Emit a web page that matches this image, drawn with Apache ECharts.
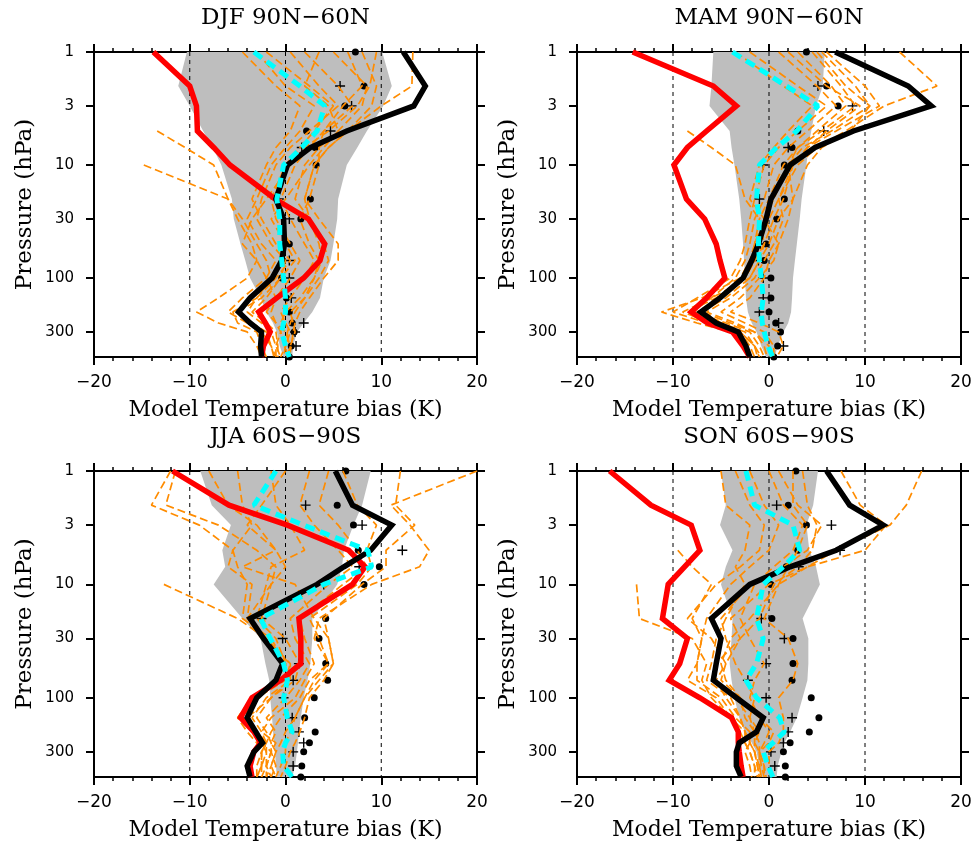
<!DOCTYPE html>
<html>
<head>
<meta charset="utf-8">
<script src="https://cdn.jsdelivr.net/npm/echarts@6/dist/echarts.min.js"></script>
<style>
html,body{margin:0;padding:0;background:#fff;}
#chart{width:973px;height:844px;}
</style>
</head>
<body>
<div id="chart"></div>
<script>
// Pressure levels (hPa), top to bottom
const levels = [1, 2, 3, 5, 7, 10, 20, 30, 50, 70, 100, 150, 200, 250, 300, 400, 500];
const pressureTicks = [1, 3, 10, 30, 100, 300];
const biasMin = -20, biasMax = 20, biasStep = 10;
const refLines = [-10, 0, 10];
const panelTitles = ['DJF 90N\u221260N', 'MAM 90N\u221260N', 'JJA 60S\u221290S', 'SON 60S\u221290S'];

// ---------- DJF 90N-60N ----------
const djfSpreadLo = [-10.3, -11.2, -10.0, -8.6, -7.6, -6.7, -5.6, -5.4, -4.7, -4.2, -3.7, -2.6, -2.0, -1.3, -0.9, -0.6, -0.2];
const djfSpreadHi = [10.1, 11.1, 10.2, 8.5, 7.5, 6.4, 5.5, 5.4, 5.0, 4.7, 4.0, 3.6, 2.8, 1.9, 1.2, 0.8, 0.7];
const djfModels = [
  [13.3, 13.2, 10.0, 6.5, 4.5, 3.0, 2.0, 2.5, 3.5, 3.8, 3.0, 2.0, 1.0, 0.5, 0.2, 0.0, -0.5],
  [null, null, null, -13.4, -10.5, -7.5, -6.0, -5.0, -3.5, -3.0, -4.0, -7.0, -9.3, -7.0, -4.0, -3.0, -2.5],
  [null, null, null, null, null, -14.8, -6.0, -4.5, -3.0, -2.0, -1.5, -3.0, -5.5, -5.0, -3.0, -2.5, -2.0],
  [-4.5, -1.0, 1.5, 0.5, -1.0, -2.0, -3.5, -2.5, -1.0, 0.5, -1.0, -3.0, -4.0, -2.5, -1.5, -1.0, -0.5],
  [-2.0, 2.5, 5.0, 3.0, 1.5, 0.0, -1.5, -1.0, 0.5, 1.5, 0.5, -1.0, -2.0, -1.0, 0.0, 0.5, 0.3],
  [2.0, 5.5, 7.0, 4.0, 2.5, 1.0, -0.5, 0.5, 2.0, 3.0, 2.0, 0.5, -0.5, 0.0, 0.5, 0.0, -0.2],
  [5.0, 8.5, 8.0, 5.5, 3.5, 2.0, 1.0, 2.5, 4.0, 4.5, 3.5, 2.0, 0.5, 0.8, 1.0, 0.5, 0.2],
  [8.0, 9.5, 9.0, 6.5, 4.5, 3.0, 2.0, 3.5, 5.5, 5.5, 4.0, 2.5, 1.5, 1.0, 0.8, 0.6, 0.4],
  [-3.0, 0.0, 3.0, 1.5, 0.0, -1.5, -3.0, -4.0, -2.5, -1.0, -2.0, -4.5, -6.0, -4.0, -2.5, -1.5, -1.0],
  [0.5, 3.5, 5.5, 2.5, 0.5, -1.0, -2.5, -3.0, -1.5, 0.0, -0.5, -2.0, -3.5, -2.0, -1.0, -0.8, -0.8],
  [6.5, 8.0, 6.0, 4.0, 3.5, 3.5, 2.5, 1.5, 2.5, 3.5, 3.0, 1.5, 0.0, -0.5, -0.5, -1.0, -1.0],
  [3.5, 2.0, 4.5, 5.5, 4.0, 2.5, 0.0, -1.5, 0.0, 1.0, -0.5, -2.5, -5.0, -3.5, -2.0, -1.5, -1.2],
  [9.5, 8.8, 7.5, 4.5, 2.0, 0.5, -2.0, -3.5, -4.5, -3.0, -2.0, -1.0, -1.5, -1.0, -0.5, 0.0, 0.2]
];
const djfRed = [-13.8, -10.0, -9.3, -9.2, -7.5, -5.8, -1.1, 2.4, 4.1, 3.6, 1.9, -0.9, -2.8, -2.1, -1.6, -2.3, -2.5];
const djfBlack = [12.3, 14.6, 13.4, 6.4, 2.6, 0.2, -1.0, -0.2, -0.1, -0.4, -1.4, -3.7, -4.9, -3.7, -2.5, -2.6, -2.5];
const djfMean = [-3.3, 1.5, 4.1, 3.3, 1.7, -0.2, -0.9, -0.6, -0.6, -0.4, -0.2, 0.0, 0.0, -0.2, -0.4, 0.0, 0.4];
const djfDots = [7.3, 8.2, 6.2, 2.2, 3.1, 3.2, 2.6, 1.6, 0.4, -0.3, -0.4, 0.1, 0.4, 0.7, 0.9, 0.6, 0.4];
const djfPlus = [null, 5.7, 6.9, 4.7, 1.7, null, -0.7, 0.4, null, 0.4, 0.4, 0.6, null, 1.9, 1.0, 1.1, null];

// ---------- MAM 90N-60N ----------
const mamSpreadLo = [-5.8, -6.0, -6.2, -4.1, -3.9, -3.6, -3.1, -2.9, -2.7, -2.6, -2.5, -2.4, -2.2, -1.8, -1.3, -0.8, -0.3];
const mamSpreadHi = [5.8, 5.6, 4.9, 4.4, 4.1, 3.9, 3.4, 3.2, 2.9, 2.7, 2.5, 2.4, 2.3, 2.0, 1.5, 0.9, 0.6];
const mamModels = [
  [13.6, 17.5, 12.0, 8.0, 5.0, 3.0, 1.0, 0.0, -1.0, -1.5, -2.5, -5.0, -7.0, -5.0, -3.0, -2.0, -1.5],
  [6.0, 10.0, 11.5, 7.0, 4.0, 2.5, 1.5, 0.5, -0.5, -1.0, -2.0, -6.0, -9.0, -6.0, -3.5, -2.5, -2.0],
  [5.0, 8.0, 10.5, 6.5, 3.5, 2.0, 0.5, -0.5, -1.5, -2.0, -3.0, -7.0, -11.2, -7.5, -4.0, -2.5, -1.8],
  [3.0, 6.5, 8.0, 5.0, 3.0, 1.5, 0.0, -1.0, -1.5, -1.5, -2.5, -5.5, -8.5, -5.5, -3.0, -1.5, -1.0],
  [1.0, 5.0, 7.0, 4.0, 2.0, 0.5, -0.5, -1.5, -2.0, -2.5, -3.5, -6.0, -8.0, -4.5, -2.0, -1.0, -0.5],
  [-2.0, 3.0, 6.0, 3.0, 1.0, -0.5, -1.5, -2.0, -2.5, -3.0, -4.0, -7.5, -10.0, -6.5, -3.0, -1.5, -0.8],
  [-3.5, 1.5, 4.5, 2.0, 0.5, -1.0, -2.0, -0.5, 1.0, 0.5, -1.0, -3.0, -5.0, -2.5, -0.5, 0.5, 0.5],
  [4.5, 7.5, 9.0, 5.5, 3.0, 2.0, 2.5, 2.0, 1.0, 0.0, -0.5, -2.0, -4.0, -1.0, 1.0, 1.5, 0.8],
  [null, null, null, -8.5, -6.0, -3.5, -2.5, -1.0, -0.5, -1.5, -2.5, -5.0, -7.5, -5.0, -2.5, -1.5, -1.2],
  [2.0, 6.0, 9.5, 6.0, 4.0, 2.5, 1.0, 1.5, 0.5, -0.5, -1.5, -4.0, -6.5, -3.5, -1.5, -0.5, -0.2],
  [5.5, 9.0, 10.5, 8.5, 5.5, 4.0, 2.5, 1.0, 0.0, -1.0, -2.0, -4.5, -7.0, -4.0, -1.5, 0.0, 0.2]
];
const mamRed = [-14.2, -5.8, -3.4, -6.5, -8.5, -9.9, -8.6, -6.7, -5.5, -5.1, -4.6, -6.5, -8.1, -6.4, -3.8, -2.7, -2.0];
const mamBlack = [6.9, 14.5, 16.9, 8.8, 4.8, 2.2, 0.2, -0.3, -1.1, -1.8, -2.7, -5.1, -7.1, -5.5, -3.2, -2.4, -2.0];
const mamMean = [-3.8, 1.8, 5.1, 2.9, 0.8, -1.0, -1.3, -1.0, -1.1, -1.0, -0.8, -0.6, -0.8, -0.7, -0.5, -0.1, 0.4];
const mamDots = [3.9, 6.0, 7.2, 3.0, 2.4, 1.6, 1.6, 0.8, -0.3, -0.5, 0.2, 0.2, 0.0, 0.7, 1.2, 0.9, 0.5];
const mamPlus = [null, 5.1, 8.7, 5.7, 2.0, -0.6, -1.0, null, -0.9, -1.1, -0.6, -0.6, -1.0, 1.0, null, 1.5, null];

// ---------- JJA 60S-90S ----------
const jjaSpreadLo = [-8.9, -7.7, -5.7, -6.6, -6.3, -7.5, -4.5, -2.6, -2.1, -1.7, -1.6, -1.4, -1.3, -1.2, -1.1, -1.0, -0.9];
const jjaSpreadHi = [8.9, 8.0, 7.1, 6.1, 5.9, 5.4, 2.8, 2.8, 2.6, 2.3, 1.9, 1.6, 1.4, 1.3, 1.2, 1.0, 0.7];
const jjaModels = [
  [20.0, 11.0, 13.0, 15.0, 14.0, 9.0, 3.5, 3.0, 4.5, 2.5, 1.5, -0.5, -1.5, -2.0, -2.5, -2.5, -3.0],
  [12.0, 11.5, 13.5, 10.5, 10.5, 8.0, 4.0, 4.5, 5.0, 3.5, 2.0, 1.0, 0.0, -0.5, -1.0, -1.5, -2.0],
  [-12.0, -14.0, -9.0, -5.5, -5.0, -4.0, -4.5, -1.5, 0.0, -1.0, -3.5, -5.0, -4.0, -3.0, -2.5, -2.5, -2.5],
  [-11.5, -12.5, -7.0, -3.0, -1.0, -1.5, -4.0, -2.5, 0.5, 0.0, -3.0, -4.5, -3.5, -2.5, -2.0, -2.5, -3.0],
  [null, null, null, null, null, -12.7, -5.0, -2.0, 0.0, -1.0, -3.5, -5.0, -3.0, -2.0, -2.5, -3.0, -3.0],
  [-5.0, -4.5, -3.5, -5.5, -6.0, -3.5, -4.0, -2.0, 0.5, 0.5, -2.0, -3.5, -2.5, -2.0, -2.0, -2.0, -2.5],
  [-1.5, -1.0, 0.5, 2.0, -1.5, -2.0, -3.0, -1.0, 0.0, 0.5, -1.5, -3.0, -2.0, -1.5, -1.5, -1.0, -1.5],
  [2.5, 1.5, 3.0, 5.5, 7.0, 4.5, 0.5, 1.0, 2.5, 1.5, 0.0, -2.0, -1.0, -1.5, -1.0, -1.5, -1.0],
  [4.5, 3.5, 5.5, 7.5, 8.5, 6.0, 1.5, 2.0, 3.0, 2.0, 1.0, -1.5, -2.5, -1.0, -1.5, -2.0, -1.5],
  [-8.0, -6.0, -3.0, -1.0, 0.0, -1.5, -2.5, 0.0, 1.5, 1.0, -1.5, -4.0, -3.0, -2.5, -1.5, -2.0, -2.0],
  [0.0, -2.5, -4.0, -1.0, -4.5, 1.0, 3.0, 4.5, 5.0, 4.0, 2.5, 2.0, 1.5, 1.0, 0.5, 0.0, -0.5],
  [6.0, 7.5, 9.5, 8.5, 9.0, 7.5, 2.5, 3.5, 4.5, 3.0, 2.0, 1.0, 0.5, 0.0, 0.0, -0.5, -1.0]
];
const jjaRed = [-11.8, -5.9, 0.2, 6.6, 8.3, 7.0, 1.4, 1.6, 1.6, -0.5, -3.5, -4.7, -3.3, -2.6, -3.3, -3.7, -3.5];
const jjaBlack = [5.2, 7.0, 11.1, 8.9, 6.1, 3.3, -3.7, -2.3, -0.3, -1.0, -3.0, -4.0, -3.1, -2.4, -3.3, -4.0, -3.7];
const jjaMean = [-1.0, -3.3, 1.9, 8.6, 9.0, 4.0, -2.6, -1.6, -0.2, 0.2, -0.2, 0.2, 0.7, 0.0, -0.3, -0.2, 0.7];
const jjaDots = [6.3, 5.4, 7.1, 7.6, 9.8, 8.2, 4.2, 3.5, 4.2, 4.4, 3.0, 2.0, 3.1, 2.5, 1.9, 1.7, 1.6];
const jjaPlus = [null, 2.1, 8.0, 12.2, 7.7, 4.0, -2.5, -0.3, 1.4, 0.8, -0.2, 0.7, 1.4, 1.9, 0.8, 0.8, null];

// ---------- SON 60S-90S ----------
const sonSpreadLo = [-5.0, -4.5, -5.1, -3.8, -4.5, -5.0, -3.8, -3.9, -4.1, -3.9, -3.6, -3.1, -2.5, -1.8, -1.3, -1.0, -0.8];
const sonSpreadHi = [5.1, 4.6, 3.9, 4.2, 4.9, 5.3, 3.5, 4.1, 4.1, 4.0, 3.5, 2.9, 2.2, 1.6, 1.3, 0.9, 0.8];
const sonModels = [
  [15.9, 14.3, 12.6, 7.0, 4.0, 1.0, -2.0, -4.0, -5.0, -4.5, -3.0, -1.0, 0.0, -0.5, -1.0, -1.0, -0.8],
  [7.5, 9.5, 12.2, 10.0, 4.0, 0.0, -4.0, -3.0, -5.5, -6.0, -3.5, -2.0, -1.5, -1.5, -1.5, -1.2, -1.0],
  [null, null, null, -9.5, -8.0, -6.0, -8.0, -7.0, -7.5, -8.5, -5.5, -4.0, -3.0, -2.5, -2.0, -1.5, -1.2],
  [null, null, null, null, null, -13.8, -13.5, -8.0, -6.5, -7.0, -6.0, -4.0, -2.5, -2.0, -2.5, -2.0, -1.8],
  [-5.0, -4.5, -2.0, -2.5, -3.5, -2.5, -4.5, -5.5, -6.0, -6.5, -4.0, -3.0, -2.5, -2.5, -2.0, -1.5, -1.5],
  [-2.0, -0.5, 1.0, 0.0, -2.0, -4.0, -6.5, -7.0, -7.5, -7.5, -5.0, -3.5, -2.0, -2.0, -1.5, -1.0, -0.8],
  [0.0, 1.5, 3.5, 2.5, 0.5, -1.5, -3.0, -2.0, -0.5, -1.5, -2.0, -1.0, 0.5, 0.0, -1.0, -0.5, -0.3],
  [2.5, 2.5, 4.0, 3.0, 2.0, 1.0, -0.5, 2.0, 3.0, 2.5, 1.0, 1.5, 1.5, 1.0, 0.0, 0.0, 0.2],
  [3.5, 4.0, 5.0, 4.5, 3.0, 0.5, -1.0, -3.0, -4.5, -5.0, -3.0, -2.5, -1.5, -1.0, -1.0, -0.8, -0.5],
  [-3.5, -2.0, -0.5, -1.0, -3.0, -5.5, -8.5, -6.0, -4.5, -5.5, -4.5, -3.0, -2.5, -2.0, -1.5, -1.2, -1.0],
  [1.0, 3.0, 5.5, 4.0, 1.5, -2.0, -5.0, -4.5, -3.5, -2.5, -1.5, -2.0, -1.0, -1.5, -1.0, -0.5, -0.5]
];
const sonRed = [-16.6, -12.3, -8.1, -7.2, -8.8, -10.5, -11.1, -8.5, -9.3, -10.4, -7.2, -3.9, -3.2, -3.2, -3.1, -2.9, -2.7];
const sonBlack = [6.0, 8.4, 11.9, 7.0, 2.2, -2.0, -6.0, -5.0, -5.5, -5.8, -3.4, -0.6, -1.3, -3.1, -3.4, -3.4, -2.9];
const sonMean = [-2.4, -1.5, 2.5, 3.2, 1.5, -0.6, -1.3, -0.6, -1.3, -2.4, -1.3, 1.1, 1.6, 0.4, -0.6, -0.1, 0.4];
const sonDots = [2.8, 2.0, 3.9, 3.0, 1.8, 0.2, 0.3, 2.5, 2.5, 2.4, 4.4, 5.2, 4.2, 2.2, 1.5, 1.7, 1.7];
const sonPlus = [null, 0.8, 6.5, 7.4, 3.1, null, -0.8, 1.6, -0.3, -2.2, -0.3, 2.4, 2.0, 1.5, 0.2, 0.6, null];

const panelData = [
  {lo: djfSpreadLo, hi: djfSpreadHi, models: djfModels, red: djfRed, black: djfBlack, mean: djfMean, dots: djfDots, plus: djfPlus},
  {lo: mamSpreadLo, hi: mamSpreadHi, models: mamModels, red: mamRed, black: mamBlack, mean: mamMean, dots: mamDots, plus: mamPlus},
  {lo: jjaSpreadLo, hi: jjaSpreadHi, models: jjaModels, red: jjaRed, black: jjaBlack, mean: jjaMean, dots: jjaDots, plus: jjaPlus},
  {lo: sonSpreadLo, hi: sonSpreadHi, models: sonModels, red: sonRed, black: sonBlack, mean: sonMean, dots: sonDots, plus: sonPlus}
];

// ---------- layout & styling ----------
const boxes = [
  {left: 94, top: 52, width: 383, height: 305},
  {left: 577, top: 52, width: 384, height: 305},
  {left: 94, top: 471, width: 383, height: 306},
  {left: 577, top: 471, width: 384, height: 306}
];
const logP = p => Math.log10(p);
const yTop = logP(levels[0]);
const yBottom = logP(levels[levels.length - 1]);
const yTickVals = pressureTicks.map(logP);

// pairs (bias, log10 p) for one profile, skipping missing levels
const profile = arr => arr.map((x, i) => (x == null ? null : [x, logP(levels[i])])).filter(d => d !== null);

const AXIS_COLOR = '#000';
const serif = 'DejaVu Serif';
const sans = 'DejaVu Sans';

const grids = [], xAxes = [], yAxes = [], series = [], titles = [];

boxes.forEach((b, k) => {
  grids.push(Object.assign({outerBoundsMode: 'none', containLabel: false}, b));
  titles.push({
    text: panelTitles[k], left: b.left + b.width / 2, top: b.top - 45, textAlign: 'center', padding: 0,
    textStyle: {fontFamily: serif, fontSize: 23, fontWeight: 'normal', color: '#000'}
  });

  const xCommon = {
    gridIndex: k, type: 'value', min: biasMin, max: biasMax, interval: biasStep,
    axisLine: {onZero: false, lineStyle: {color: AXIS_COLOR, width: 2}},
    axisTick: {show: true, inside: false, length: 8, lineStyle: {color: AXIS_COLOR, width: 2}},
    minorTick: {show: true, splitNumber: 5, length: 4, lineStyle: {color: AXIS_COLOR, width: 1.5}},
    splitLine: {show: false}, minorSplitLine: {show: false}
  };
  xAxes.push(Object.assign({}, xCommon, {
    position: 'bottom',
    axisLabel: {show: true, margin: 17, fontFamily: sans, fontSize: 17, color: '#000',
      formatter: v => String(v).replace('-', '\u2212')},
    name: 'Model Temperature bias (K)', nameLocation: 'middle', nameGap: 42, nameMoveOverlap: false,
    nameTextStyle: {fontFamily: serif, fontSize: 22, color: '#000'}
  }));
  xAxes.push(Object.assign({}, xCommon, {position: 'top', axisLabel: {show: false}}));

  const yCommon = {
    gridIndex: k, type: 'value', min: yTop, max: yBottom, inverse: true,
    axisLine: {onZero: false, lineStyle: {color: AXIS_COLOR, width: 2}},
    axisTick: {show: true, inside: false, length: 8, customValues: yTickVals, lineStyle: {color: AXIS_COLOR, width: 2}},
    splitLine: {show: false}
  };
  yAxes.push(Object.assign({}, yCommon, {
    position: 'left',
    axisLabel: {show: true, margin: 20, fontFamily: sans, fontSize: 15, color: '#000', customValues: yTickVals,
      formatter: v => String(Math.round(Math.pow(10, v)))},
    name: 'Pressure (hPa)', nameLocation: 'middle', nameRotate: 90, nameGap: 57, nameMoveOverlap: false,
    nameTextStyle: {fontFamily: serif, fontSize: 23, color: '#000'}
  }));
  yAxes.push(Object.assign({}, yCommon, {position: 'right', axisLabel: {show: false}}));

  const xi = 2 * k, yi = 2 * k;
  const d = panelData[k];

  // model spread envelope
  series.push({
    type: 'custom', coordinateSystem: 'cartesian2d', xAxisIndex: xi, yAxisIndex: yi, silent: true,
    data: [[0, 0]],
    renderItem: (params, api) => {
      const pts = [];
      for (let i = 0; i < levels.length; i++) pts.push(api.coord([d.lo[i], logP(levels[i])]));
      for (let i = levels.length - 1; i >= 0; i--) pts.push(api.coord([d.hi[i], logP(levels[i])]));
      return {type: 'polygon', shape: {points: pts}, style: {fill: '#bebebe'}};
    }
  });

  // dashed reference verticals
  refLines.forEach(v => {
    series.push({
      type: 'line', xAxisIndex: xi, yAxisIndex: yi, silent: true, symbol: 'none',
      data: [[v, yTop], [v, yBottom]],
      lineStyle: {color: '#000', width: 1, type: [4, 4]}
    });
  });

  // individual models
  d.models.forEach(m => {
    series.push({
      type: 'line', xAxisIndex: xi, yAxisIndex: yi, silent: true, symbol: 'none',
      data: profile(m),
      lineStyle: {color: '#ff8c00', width: 1.7, type: [8, 4]}
    });
  });

  series.push({
    type: 'line', xAxisIndex: xi, yAxisIndex: yi, silent: true, symbol: 'none',
    data: profile(d.red), lineStyle: {color: '#ff0000', width: 5.5, join: 'miter'}
  });
  series.push({
    type: 'line', xAxisIndex: xi, yAxisIndex: yi, silent: true, symbol: 'none',
    data: profile(d.black), lineStyle: {color: '#000000', width: 5.5, join: 'miter'}
  });
  series.push({
    type: 'line', xAxisIndex: xi, yAxisIndex: yi, silent: true, symbol: 'none',
    data: profile(d.mean), lineStyle: {color: '#00ffff', width: 5, type: [10, 6]}
  });
  series.push({
    type: 'scatter', xAxisIndex: xi, yAxisIndex: yi, silent: true,
    data: profile(d.dots), symbol: 'circle', symbolSize: 7,
    itemStyle: {color: '#000', opacity: 1}
  });
  series.push({
    type: 'scatter', xAxisIndex: xi, yAxisIndex: yi, silent: true,
    data: profile(d.plus), symbol: 'path://M4.3,0H5.7V4.3H10V5.7H5.7V10H4.3V5.7H0V4.3H4.3Z', symbolSize: 10,
    itemStyle: {color: '#000', opacity: 1}
  });
});

const chart = echarts.init(document.getElementById('chart'), null, {renderer: 'canvas'});
chart.setOption({
  animation: false,
  backgroundColor: '#fff',
  title: titles,
  grid: grids,
  xAxis: xAxes,
  yAxis: yAxes,
  series: series
});
</script>
</body>
</html>
